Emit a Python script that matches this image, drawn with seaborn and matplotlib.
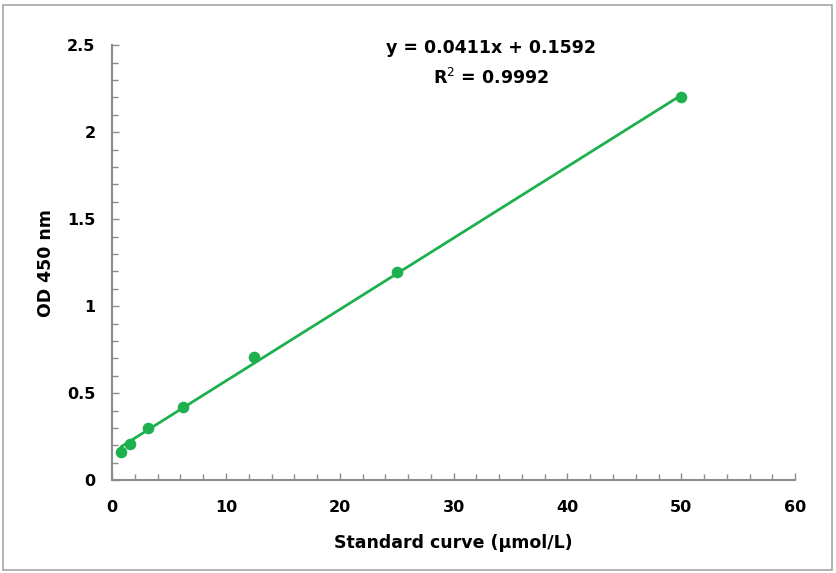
import matplotlib
matplotlib.use("Agg")
import matplotlib.pyplot as plt
import seaborn as sns
import pandas as pd
from matplotlib.ticker import MultipleLocator
from matplotlib.patches import Rectangle

# standard curve data
concentration = [0.78, 1.56, 3.125, 6.25, 12.5, 25, 50]
od_450 = [0.16, 0.21, 0.30, 0.42, 0.71, 1.195, 2.20]
x_ticks = [0, 10, 20, 30, 40, 50, 60]
y_ticks = [0, 0.5, 1, 1.5, 2, 2.5]
y_tick_labels = ["0", "0.5", "1", "1.5", "2", "2.5"]
equation_text = "y = 0.0411x + 0.1592"
r2_text = "R$^2$ = 0.9992"

sns.set_style("white")
plt.rcParams['font.family'] = ['DejaVu Sans']
plt.rcParams['text.color'] = 'black'
plt.rcParams['axes.labelcolor'] = 'black'

df = pd.DataFrame({"conc": concentration, "od": od_450})
green = "#1DB04E"
axis_gray = "#8C8C8C"

fig = plt.figure(figsize=(8.37, 5.73), dpi=100)
ax = fig.add_axes([0.134, 0.162, 0.816, 0.759])

# points and linear trendline
sns.regplot(data=df, x="conc", y="od", ci=None, ax=ax, color=green,
            scatter_kws={"s": 70, "zorder": 3, "linewidths": 0, "alpha": 1},
            line_kws={"lw": 2})

ax.set_xlim(0, 60)
ax.set_ylim(0, 2.5)
ax.set_xticks(x_ticks)
ax.set_xticklabels([str(t) for t in x_ticks])
ax.set_yticks(y_ticks)
ax.set_yticklabels(y_tick_labels)
ax.xaxis.set_minor_locator(MultipleLocator(2))
ax.yaxis.set_minor_locator(MultipleLocator(0.1))

ax.tick_params(which="both", direction="in", color=axis_gray, labelsize=11.5,
               labelcolor="black", bottom=True, left=True)
ax.tick_params(which="major", length=5, width=1)
ax.tick_params(axis="x", which="major", pad=14)
ax.tick_params(axis="y", which="major", pad=12)
ax.tick_params(which="minor", length=4, width=1)
for lab in ax.get_xticklabels() + ax.get_yticklabels():
    lab.set_fontweight("bold")

sns.despine(ax=ax)
for side in ["left", "bottom"]:
    ax.spines[side].set_color(axis_gray)
    ax.spines[side].set_linewidth(1.5)

ax.set_xlabel("Standard curve (μmol/L)", fontsize=12.5, fontweight="bold", labelpad=14)
ax.set_ylabel("OD 450 nm", fontsize=12.5, fontweight="bold", labelpad=9)

# trendline equation
ax.text(0.555, 0.993, equation_text, transform=ax.transAxes, ha="center", va="center",
        fontsize=12.5, fontweight="bold")
ax.text(0.555, 0.924, r2_text, transform=ax.transAxes, ha="center", va="center",
        fontsize=12.5, fontweight="bold")

# chart border
fig.patches.append(Rectangle((0.004, 0.006), 0.99, 0.985, transform=fig.transFigure,
                             fill=False, edgecolor="#A6A6A6", lw=1.2))

fig.savefig("out.png", dpi=100)
